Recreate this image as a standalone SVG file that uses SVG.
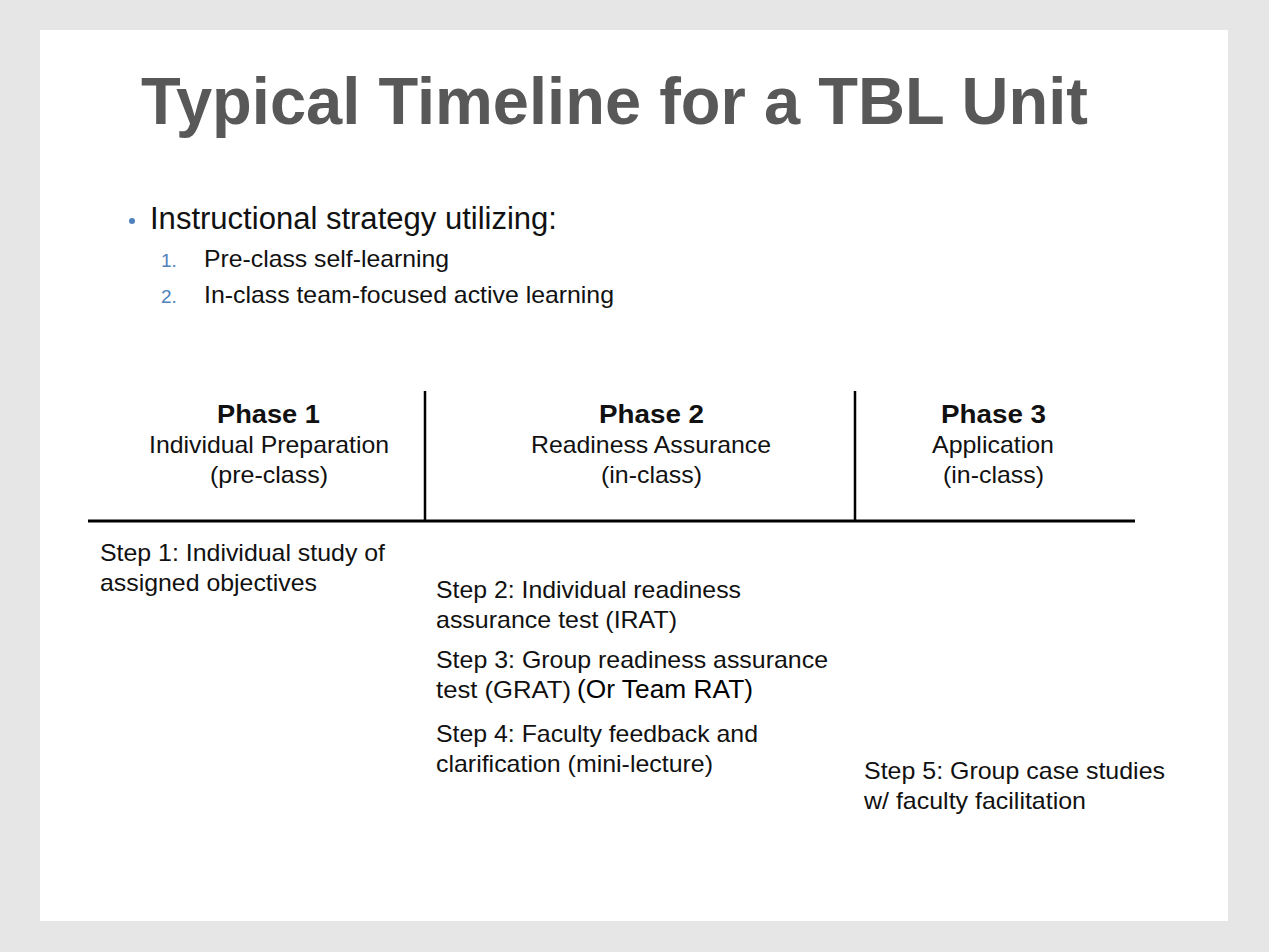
<svg xmlns="http://www.w3.org/2000/svg" width="1269" height="952" viewBox="0 0 1269 952">
<style>
.t{font-family:"Liberation Sans",Arial,sans-serif;fill:#111;}
.title{font-family:"Liberation Sans",Arial,sans-serif;font-weight:bold;font-size:66px;fill:#585858;}
.b{font-size:31px;}
.n{font-size:24px;}
.num{font-family:"Liberation Sans",Arial,sans-serif;font-size:19px;fill:#4f81bd;}
.ph{font-size:25px;font-weight:bold;text-anchor:middle;}
.ps{font-size:24px;text-anchor:middle;}
.s{font-size:24px;}
.line{stroke:#000;fill:none;}
</style>
<rect x="0" y="0" width="1269" height="952" fill="#e6e6e7"/>
<rect x="40" y="30" width="1188" height="891" fill="#ffffff"/>
<g id="title"><text class="title" x="141" y="124" textLength="947" lengthAdjust="spacingAndGlyphs">Typical Timeline for a TBL Unit</text></g>
<g id="bullets">
<circle cx="132" cy="221" r="3" fill="#4f81bd"/>
<text class="t b" x="150" y="229" textLength="407" lengthAdjust="spacingAndGlyphs">Instructional strategy utilizing:</text>
<text class="num" x="161" y="267">1.</text>
<text class="t n" x="204" y="267" textLength="245" lengthAdjust="spacingAndGlyphs">Pre-class self-learning</text>
<text class="num" x="161" y="303">2.</text>
<text class="t n" x="204" y="303" textLength="410" lengthAdjust="spacingAndGlyphs">In-class team-focused active learning</text>
</g>
<g id="connectors">
<line class="line" x1="88" y1="521" x2="1135" y2="521" stroke-width="3"/>
<line class="line" x1="425" y1="391" x2="425" y2="521" stroke-width="2.5"/>
<line class="line" x1="855" y1="391" x2="855" y2="521" stroke-width="2.5"/>
</g>
<g id="phase1">
<text class="t ph" x="268.5" y="423" textLength="103" lengthAdjust="spacingAndGlyphs">Phase 1</text>
<text class="t ps" x="269" y="453" textLength="240" lengthAdjust="spacingAndGlyphs">Individual Preparation</text>
<text class="t ps" x="269" y="483" textLength="118" lengthAdjust="spacingAndGlyphs">(pre-class)</text>
</g>
<g id="phase2">
<text class="t ph" x="651.5" y="423" textLength="105" lengthAdjust="spacingAndGlyphs">Phase 2</text>
<text class="t ps" x="651" y="453" textLength="240" lengthAdjust="spacingAndGlyphs">Readiness Assurance</text>
<text class="t ps" x="651.5" y="483" textLength="101" lengthAdjust="spacingAndGlyphs">(in-class)</text>
</g>
<g id="phase3">
<text class="t ph" x="993.5" y="423" textLength="105" lengthAdjust="spacingAndGlyphs">Phase 3</text>
<text class="t ps" x="993" y="453" textLength="122" lengthAdjust="spacingAndGlyphs">Application</text>
<text class="t ps" x="993.5" y="483" textLength="101" lengthAdjust="spacingAndGlyphs">(in-class)</text>
</g>
<g id="step1">
<text class="t s" x="100" y="561" textLength="285" lengthAdjust="spacingAndGlyphs">Step 1: Individual study of</text>
<text class="t s" x="100" y="591" textLength="217" lengthAdjust="spacingAndGlyphs">assigned objectives</text>
</g>
<g id="step2">
<text class="t s" x="436" y="598" textLength="305" lengthAdjust="spacingAndGlyphs">Step 2: Individual readiness</text>
<text class="t s" x="436" y="628" textLength="241" lengthAdjust="spacingAndGlyphs">assurance test (IRAT)</text>
</g>
<g id="step3">
<text class="t s" x="436" y="668" textLength="392" lengthAdjust="spacingAndGlyphs">Step 3: Group readiness assurance</text>
<text class="t s" x="436" y="698" textLength="135" lengthAdjust="spacingAndGlyphs">test (GRAT)</text>
<text class="t s" x="577" y="698" style="font-size:25px;fill:#000" textLength="176" lengthAdjust="spacingAndGlyphs">(Or Team RAT)</text>
</g>
<g id="step4">
<text class="t s" x="436" y="742" textLength="322" lengthAdjust="spacingAndGlyphs">Step 4: Faculty feedback and</text>
<text class="t s" x="436" y="772" textLength="277" lengthAdjust="spacingAndGlyphs">clarification (mini-lecture)</text>
</g>
<g id="step5">
<text class="t s" x="864" y="779" textLength="301" lengthAdjust="spacingAndGlyphs">Step 5: Group case studies</text>
<text class="t s" x="864" y="809" textLength="222" lengthAdjust="spacingAndGlyphs">w/ faculty facilitation</text>
</g>
</svg>
